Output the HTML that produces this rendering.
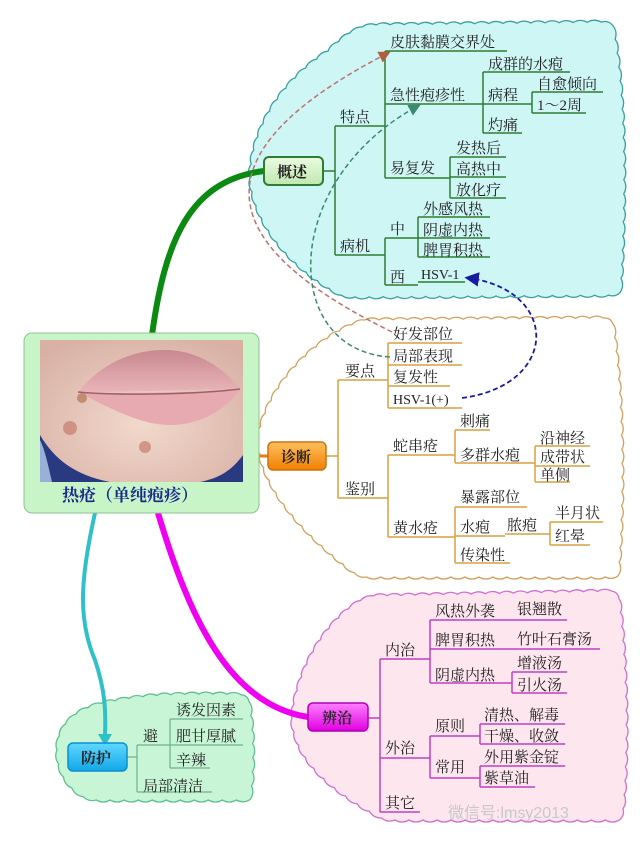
<!DOCTYPE html>
<html><head><meta charset="utf-8"><style>
html,body{margin:0;padding:0;background:#fff;width:640px;height:847px;overflow:hidden}
svg text{font-family:"Liberation Serif","Noto Serif CJK SC",serif;font-size:15px;fill:#222}
</style></head><body>
<svg id="s" width="640" height="847" viewBox="0 0 640 847" xmlns="http://www.w3.org/2000/svg">
<defs>
<linearGradient id="gG" x1="0" y1="0" x2="0" y2="1"><stop offset="0" stop-color="#eafbe0"/><stop offset="1" stop-color="#bfe8b0"/></linearGradient>
<linearGradient id="gO" x1="0" y1="0" x2="0" y2="1"><stop offset="0" stop-color="#ffc060"/><stop offset="1" stop-color="#f08000"/></linearGradient>
<linearGradient id="gM" x1="0" y1="0" x2="0" y2="1"><stop offset="0" stop-color="#ff80ff"/><stop offset="1" stop-color="#e000e0"/></linearGradient>
<linearGradient id="gB" x1="0" y1="0" x2="0" y2="1"><stop offset="0" stop-color="#60d8ff"/><stop offset="1" stop-color="#10a8e8"/></linearGradient>
<radialGradient id="skin" cx="0.5" cy="0.6" r="0.7"><stop offset="0" stop-color="#f2d8cc"/><stop offset="1" stop-color="#d8b0a4"/></radialGradient>
<linearGradient id="lip" x1="0" y1="0" x2="0" y2="1"><stop offset="0" stop-color="#c88890"/><stop offset="1" stop-color="#e8b4b8"/></linearGradient>
<marker id="aB" markerWidth="8" markerHeight="8" refX="6" refY="4" orient="auto"><path d="M0,0 L8,4 L0,8 Z" fill="#1a1aa0"/></marker>
<marker id="aG" markerWidth="8" markerHeight="8" refX="6" refY="4" orient="auto"><path d="M0,0 L8,4 L0,8 Z" fill="#3a8a70"/></marker>
<marker id="aP" markerWidth="8" markerHeight="8" refX="6" refY="4" orient="auto"><path d="M0,0 L8,4 L0,8 Z" fill="#b06040"/></marker>
</defs>

<!-- clouds -->
<path class="cloud" d="M250,178 C252,120 290,75 330,50 C345,35 355,28 370,25 L612,22 C626,90 626,200 620,295 L345,297 C300,275 254,230 250,178 Z" fill="#cdf6f4" stroke="#3aa0a0" stroke-width="1.3"/>
<path class="cloud" d="M258,440 C264,390 315,335 365,320 L612,318 C624,400 624,500 618,577 L360,577 C310,540 260,490 258,440 Z" fill="#fff" stroke="#d4a060" stroke-width="1.3"/>
<path class="cloud" d="M292,718 C298,660 335,610 370,596 L618,591 C628,670 628,760 622,820 L385,820 C330,790 294,760 292,718 Z" fill="#fde6ee" stroke="#d070d0" stroke-width="1.3"/>
<path class="cloud" d="M57,750 C58,720 80,705 120,700 C150,694 200,693 248,695 C254,730 254,770 250,800 L90,800 C66,790 57,770 57,750 Z" fill="#c8f5d6" stroke="#60c090" stroke-width="1.3"/>

<!-- main connectors -->
<path d="M152,335 C165,240 190,180 264,171" fill="none" stroke="#0a8a10" stroke-width="6"/>
<path d="M259,456 L268,456" stroke="#e08010" stroke-width="3"/>
<path d="M158,513 C190,620 230,705 308,717" fill="none" stroke="#f000f0" stroke-width="6"/>
<path d="M95,513 C80,580 78,620 95,660 C105,690 106,710 105,736" fill="none" stroke="#30c0c8" stroke-width="4"/>
<path d="M98,734 L105,746 L112,734 Z" fill="#30c0c8"/>

<!-- central box -->
<rect x="24" y="333" width="235" height="180" rx="8" fill="#c8f5c8" stroke="#90c090" stroke-width="1"/>
<rect x="40" y="340" width="203" height="142" fill="url(#skin)"/>
<path d="M40,435 C55,460 75,475 110,482 L40,482 Z" fill="#2a3a80"/>
<path d="M40,440 L40,482 L52,482 C48,465 45,450 40,440 Z" fill="#9ab0d8"/>
<path d="M243,455 C232,470 220,478 200,482 L243,482 Z" fill="#2a3a80"/>
<path d="M78,392 C100,365 130,350 165,350 C195,350 220,365 240,388 C200,390 120,392 78,392 Z" fill="url(#lip)"/>
<path d="M78,392 C110,408 140,425 170,425 C200,425 225,410 240,390 C200,392 120,394 78,392 Z" fill="#e6aab0"/>
<path d="M78,392 C120,396 200,394 240,389" fill="none" stroke="#a06068" stroke-width="1.5"/>
<circle cx="82" cy="398" r="5" fill="#b88060" opacity="0.8"/>
<circle cx="70" cy="428" r="7" fill="#c07060" opacity="0.6"/>
<circle cx="145" cy="447" r="6" fill="#c07060" opacity="0.6"/>
<text x="62" y="501" style="font-size:17px;font-weight:bold;fill:#1a2a8a">热疮（单纯疱疹）</text>

<!-- 概述 branch -->
<g stroke="#2e7d32" stroke-width="1.5" fill="none">
<path d="M323,171 H335 M335,126 V255 M335,126 H385 M335,255 H385 M385,51 V178 M385,51 H507 M385,104 H483 M385,178 H450 M483,72 V133 M483,72 H570 M483,104 H532 M483,133 H522 M532,92 V113 M532,92 H603 M532,113 H586 M450,157 V198 M450,157 H506 M450,177 H506 M450,198 H506 M385,238 V285 M385,238 H418 M385,285 H418 M418,217 V257 M418,217 H490 M418,238 H490 M418,257 H490 M418,282 H465"/>
</g>
<rect x="264" y="157" width="59" height="28" rx="5" fill="url(#gG)" stroke="#2e7d32" stroke-width="2"/>
<text x="277" y="177" style="font-size:15px;font-weight:bold">概述</text>
<text x="340" y="122">特点</text>
<text x="390" y="47">皮肤黏膜交界处</text>
<text x="390" y="100">急性疱疹性</text>
<text x="488" y="69">成群的水疱</text>
<text x="488" y="100">病程</text>
<text x="537" y="89">自愈倾向</text>
<text x="537" y="110">1～2周</text>
<text x="488" y="130">灼痛</text>
<text x="390" y="173">易复发</text>
<text x="456" y="153">发热后</text>
<text x="456" y="174">高热中</text>
<text x="456" y="195">放化疗</text>
<text x="340" y="251">病机</text>
<text x="390" y="234">中</text>
<text x="390" y="282">西</text>
<text x="423" y="214">外感风热</text>
<text x="423" y="235">阴虚内热</text>
<text x="423" y="255">脾胃积热</text>
<text x="421" y="279" style="font-size:14px">HSV-1</text>

<!-- 诊断 branch -->
<g stroke="#d9a040" stroke-width="1.5" fill="none">
<path d="M326,456 H338 M338,380 V498 M338,380 H388 M338,498 H388 M388,343 V408 M388,343 H462 M388,365 H462 M388,386 H450 M388,408 H462 M388,455 V537 M388,455 H455 M388,537 H455 M455,430 V463 M455,430 H490 M455,463 H530 M535,446 V482 M530,463 H535 M535,446 H590 M535,466 H590 M535,482 H570 M455,507 V563 M455,507 H527 M455,536 H505 M505,534 H550 M455,563 H510 M550,522 V545 M550,522 H603 M550,545 H590"/>
</g>
<rect x="268" y="442" width="58" height="28" rx="5" fill="url(#gO)" stroke="#d07010" stroke-width="1.5"/>
<text x="281" y="462" style="font-size:15px;font-weight:bold">诊断</text>
<text x="345" y="376">要点</text>
<text x="393" y="339">好发部位</text>
<text x="393" y="361">局部表现</text>
<text x="393" y="382">复发性</text>
<text x="393" y="404" style="font-size:14px">HSV-1(+)</text>
<text x="345" y="494">鉴别</text>
<text x="393" y="451">蛇串疮</text>
<text x="460" y="426">刺痛</text>
<text x="460" y="460">多群水疱</text>
<text x="540" y="443">沿神经</text>
<text x="540" y="462">成带状</text>
<text x="540" y="480">单侧</text>
<text x="393" y="533">黄水疮</text>
<text x="460" y="502">暴露部位</text>
<text x="460" y="532">水疱</text>
<text x="507" y="530">脓疱</text>
<text x="555" y="518">半月状</text>
<text x="555" y="541">红晕</text>
<text x="460" y="560">传染性</text>

<!-- 辨治 branch -->
<g stroke="#c040c0" stroke-width="1.5" fill="none">
<path d="M368,718 H380 M380,659 V812 M380,659 H430 M380,758 H430 M380,812 H420 M430,620 V683 M430,620 H567 M430,649 H600 M430,683 H512 M512,672 V693 M512,672 H567 M512,693 H567 M430,736 V778 M430,736 H480 M430,778 H480 M480,724 V744 M480,724 H565 M480,744 H565 M480,766 V787 M480,766 H565 M480,787 H535"/>
</g>
<rect x="308" y="703" width="60" height="28" rx="5" fill="url(#gM)" stroke="#b000b0" stroke-width="1.5"/>
<text x="322" y="723" style="font-size:15px;font-weight:bold">辨治</text>
<text x="385" y="655">内治</text>
<text x="435" y="616">风热外袭</text>
<text x="517" y="614">银翘散</text>
<text x="435" y="645">脾胃积热</text>
<text x="517" y="644">竹叶石膏汤</text>
<text x="435" y="680">阴虚内热</text>
<text x="517" y="668">增液汤</text>
<text x="517" y="690">引火汤</text>
<text x="385" y="753">外治</text>
<text x="435" y="731">原则</text>
<text x="484" y="720">清热、解毒</text>
<text x="484" y="741">干燥、收敛</text>
<text x="435" y="772">常用</text>
<text x="484" y="762">外用紫金锭</text>
<text x="484" y="783">紫草油</text>
<text x="385" y="808">其它</text>
<text x="448" y="818" style="font-size:16px;fill:#c8c8c8;font-family:'Liberation Sans','Noto Sans CJK SC',sans-serif">微信号:lmsy2013</text>

<!-- 防护 branch -->
<g stroke="#70b090" stroke-width="1.2" fill="none">
<path d="M127,757 H137 M137,745 V792 M137,745 H170 M137,792 H212 M170,719 V768 M170,719 H243 M170,745 H243 M170,768 H210"/>
</g>
<rect x="68" y="743" width="59" height="28" rx="5" fill="url(#gB)" stroke="#0a90d0" stroke-width="1.5"/>
<text x="81" y="763" style="font-size:15px;font-weight:bold">防护</text>
<text x="143" y="741">避</text>
<text x="176" y="715">诱发因素</text>
<text x="176" y="741">肥甘厚腻</text>
<text x="176" y="765">辛辣</text>
<text x="143" y="791">局部清洁</text>

<!-- dashed relation lines -->
<path d="M392,332 C250,262 160,170 388,53" fill="none" stroke="#c07070" stroke-width="1.5" stroke-dasharray="5,3" marker-end="url(#aP)"/>
<path d="M390,357 C280,350 280,180 418,106" fill="none" stroke="#3a8a70" stroke-width="1.5" stroke-dasharray="5,3" marker-end="url(#aG)"/>
<path d="M462,398 C560,385 560,290 468,278" fill="none" stroke="#1a1aa0" stroke-width="1.8" stroke-dasharray="5,3" marker-end="url(#aB)"/>
</svg>
<script>
(function(){
  var cl=document.querySelectorAll('path.cloud');
  for(var i=0;i<cl.length;i++){
    var p=cl[i],L=p.getTotalLength(),n=Math.round(L/14),d='';
    var pts=[];
    for(var k=0;k<=n;k++){var q=p.getPointAtLength(L*k/n);pts.push([q.x,q.y]);}
    d='M'+pts[0][0].toFixed(1)+','+pts[0][1].toFixed(1);
    for(var k=1;k<pts.length;k++){
      var a=pts[k-1],b=pts[k],mx=(a[0]+b[0])/2,my=(a[1]+b[1])/2,dx=b[0]-a[0],dy=b[1]-a[1],l=Math.hypot(dx,dy)||1;
      // outward normal for clockwise path: (dy,-dx)
      var cx=mx+dy/l*4,cy=my-dx/l*4;
      d+=' Q'+cx.toFixed(1)+','+cy.toFixed(1)+' '+b[0].toFixed(1)+','+b[1].toFixed(1);
    }
    p.setAttribute('d',d+'Z');
  }
})();
</script>
</body></html>
